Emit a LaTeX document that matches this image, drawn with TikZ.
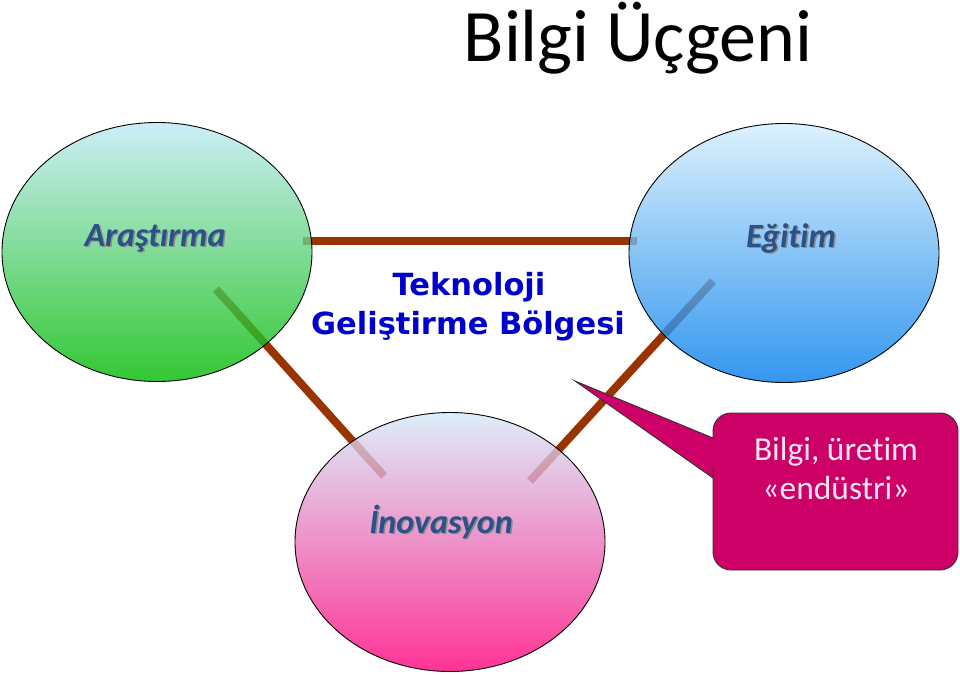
\documentclass[tikz,border=0pt]{standalone}
\usepackage{fontspec}
\setmainfont[Ligatures=NoCommon]{Carlito}
\newfontfamily\verd{DejaVu Sans}
\usetikzlibrary{shapes.geometric}
\definecolor{linebrown}{HTML}{993300}
\definecolor{labelblue}{HTML}{2A5288}
\definecolor{tgbblue}{HTML}{0000CC}
\definecolor{callout}{HTML}{CC0066}
\definecolor{callouttext}{HTML}{FCE4F0}
\tikzset{
  bubble/.style={ellipse, draw=black, line width=0.9pt, minimum width=310pt, minimum height=259pt, inner sep=0pt, fill opacity=0.8},
  link/.style={draw=linebrown, line width=8pt, line cap=butt},
  lbl/.style={font=\fontsize{34}{34}\selectfont\bfseries\itshape, text=labelblue, anchor=base, inner sep=0pt},
  lblshadow/.style={font=\fontsize{34}{34}\selectfont\bfseries\itshape, text=black!45, anchor=base, inner sep=0pt},
  tgb/.style={font=\verd\fontsize{30.5}{30.5}\selectfont\bfseries, text=tgbblue, anchor=base, inner sep=0pt},
  ctext/.style={font=\fontsize{33.5}{33.5}\selectfont, text=callouttext, anchor=base, inner sep=0pt}
}
\begin{document}
\begin{tikzpicture}[x=1pt,y=-1pt]
\useasboundingbox (0,0) rectangle (960,674);
% connectors (drawn under the translucent bubbles)
\coordinate (h1) at (303,241);
\coordinate (h2) at (637,241);
\coordinate (l1) at (216,289);
\coordinate (l2) at (384,476);
\coordinate (r1) at (713,281);
\coordinate (r2) at (530,481);
\draw[link] (h1) -- (h2);
\draw[link] (l1) -- (l2);
\draw[link] (r1) -- (r2);
% bubbles
\node[bubble, top color={rgb,255:red,192;green,234;blue,246}, bottom color={rgb,255:red,0;green,186;blue,0}] (ar) at (157,252) {};
\node[bubble, top color={rgb,255:red,212;green,238;blue,252}, bottom color={rgb,255:red,0;green,124;blue,236}] (eg) at (784,253) {};
\node[bubble, top color={rgb,255:red,212;green,234;blue,248}, bottom color={rgb,255:red,255;green,0;blue,124}] (in) at (450,542) {};
% labels
\node[lblshadow] (arS) at (156.5,247.5) {Araştırma};
\node[lbl] (arT) at (155,246) {Araştırma};
\node[lblshadow] (egS) at (792.5,248.5) {Eğitim};
\node[lbl] (egT) at (791,247) {Eğitim};
\node[lblshadow] (inS) at (442.5,534.5) {İnovasyon};
\node[lbl] (inT) at (441,533) {İnovasyon};
% title
\node[font=\fontsize{74}{74}\selectfont, anchor=base, inner sep=0pt] (title) at (638,62) {Bilgi Üçgeni};
% central text
\node[tgb] (t1) at (469,295) {Teknoloji};
\node[tgb] (t2) at (468,334) {Geliştirme Bölgesi};
% callout
\draw[fill=callout, draw=black!80, line width=0.9pt] (575,381) -- (713,438) -- (713,432)
  [rounded corners=18pt] -- (713,413) -- (958,413) -- (958,570) -- (713,570) -- (713,484)
  [sharp corners] -- (713,478) -- cycle;
\node[ctext] (c1) at (836,460) {Bilgi, üretim};
\node[ctext] (c2) at (836,499) {«endüstri»};
\end{tikzpicture}
\end{document}
